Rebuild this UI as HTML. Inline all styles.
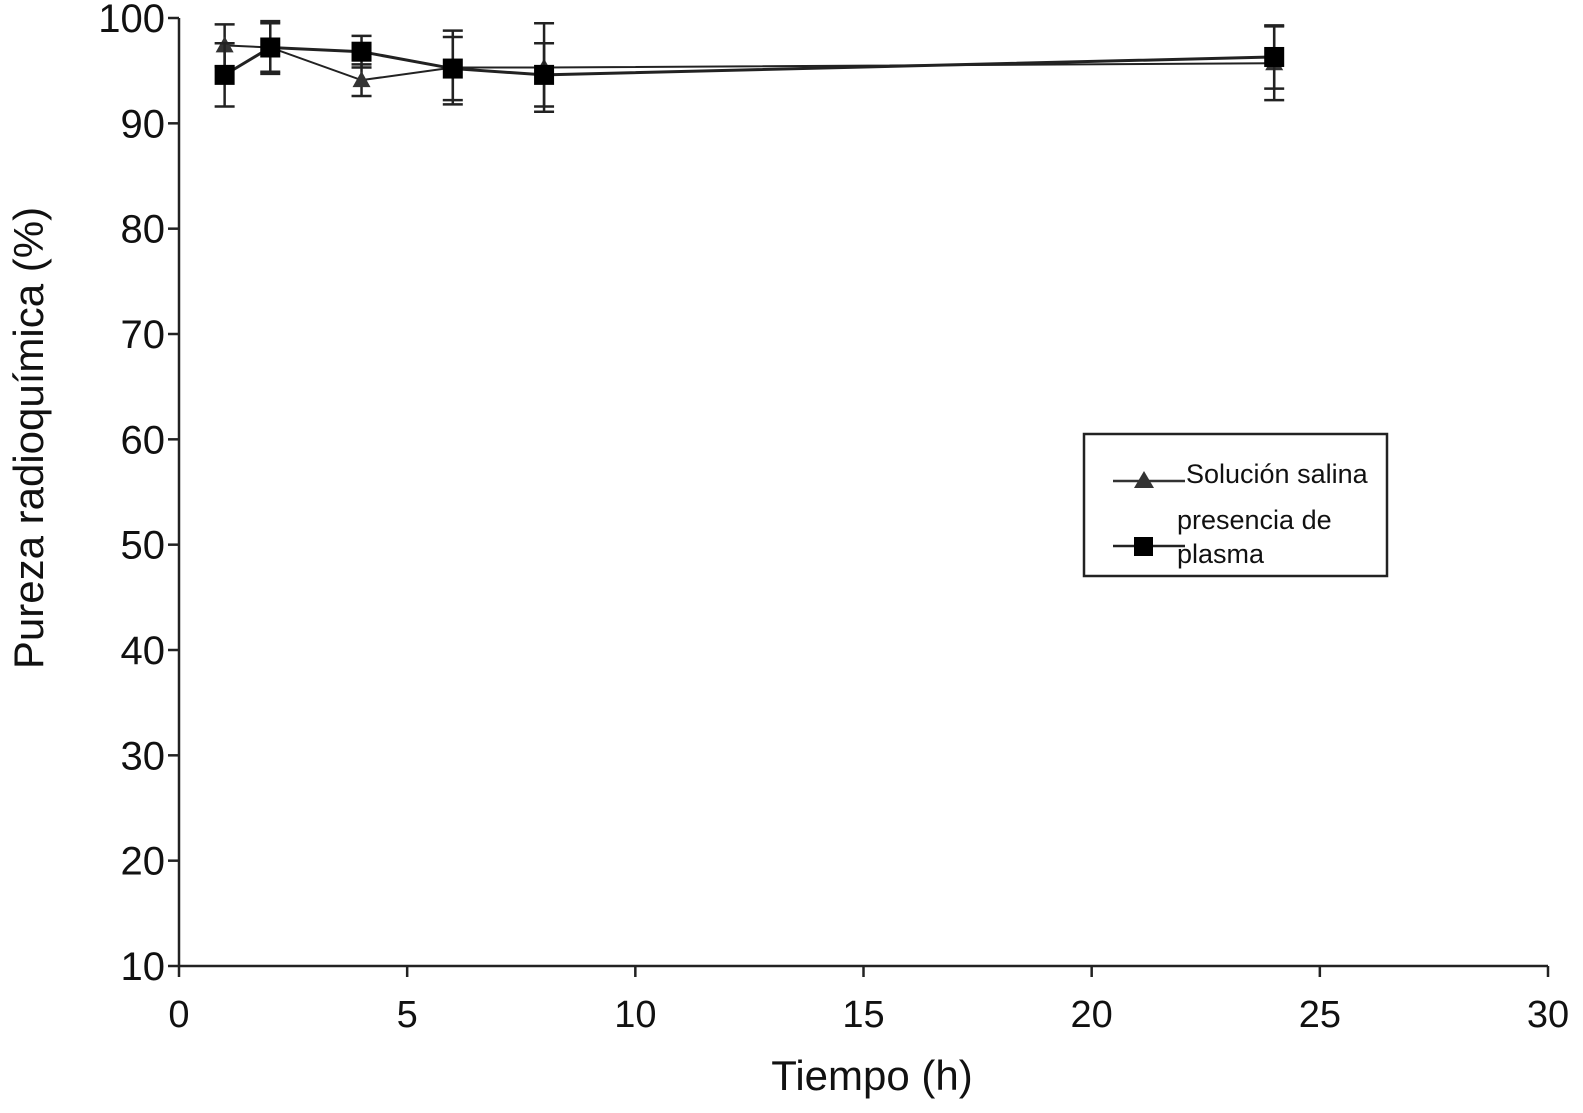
<!DOCTYPE html>
<html><head><meta charset="utf-8"><style>
body{margin:0;background:#fff;}
svg text{font-family:"Liberation Sans",sans-serif;fill:#111;}
</style></head><body>
<svg id="chart" width="1583" height="1108" xmlns="http://www.w3.org/2000/svg"></svg>
<script>
const times=[1,2,4,6,8,24];
const saline=[97.4,97.2,94.1,95.3,95.3,95.7];
const salineErr=[2,2.5,1.5,3.5,4.2,3.5];
const plasma=[94.6,97.2,96.8,95.2,94.6,96.3];
const plasmaErr=[3,2.3,1.5,3,3,3];
const xTicks=[0,5,10,15,20,25,30];
const yTicks=[10,20,30,40,50,60,70,80,90,100];
const NS='http://www.w3.org/2000/svg';
const svg=document.getElementById('chart');
const X=v=>179+v*(1548-179)/30;
const Y=v=>966-(v-10)*(966-18)/90;
function mk(t,a,p){const e=document.createElementNS(NS,t);for(const k in a)e.setAttribute(k,a[k]);(p||svg).appendChild(e);return e;}
let ax=mk('g',{});


mk('line',{x1:179,y1:18,x2:179,y2:966,stroke:'#222','stroke-width':2.5},ax);
mk('line',{x1:179,y1:966,x2:1548,y2:966,stroke:'#222','stroke-width':2.5},ax);
yTicks.forEach(v=>{mk('line',{x1:168,y1:Y(v),x2:179,y2:Y(v),stroke:'#222','stroke-width':2.5},ax);
 const t=mk('text',{x:165,y:Y(v)+14,'font-size':40,'text-anchor':'end'},ax);t.textContent=v;
 });
xTicks.forEach(v=>{mk('line',{x1:X(v),y1:966,x2:X(v),y2:977,stroke:'#222','stroke-width':2.5},ax);
 const t=mk('text',{x:X(v),y:1027,'font-size':38,'text-anchor':'middle'},ax);t.textContent=v;
 });
let xt=mk('text',{x:872,y:1090,'font-size':42,'text-anchor':'middle'});xt.textContent='Tiempo (h)';

let yt=mk('text',{x:0,y:0,'font-size':42,'text-anchor':'middle',transform:'translate(43,438) rotate(-90)'});yt.textContent='Pureza radioquímica (%)';

function series(vals,errs,name,marker){
 const g=mk('g',{});
 
 
 mk('polyline',{points:times.map((t,i)=>X(t)+','+Y(vals[i])).join(' '),fill:'none',stroke:'#222','stroke-width':marker=='sq'?3:2},g);
 times.forEach((t,i)=>{const x=X(t),lo=Y(vals[i]-errs[i]),hi=Y(vals[i]+errs[i]);
  mk('line',{x1:x,y1:lo,x2:x,y2:hi,stroke:'#222','stroke-width':2.5},g);
  mk('line',{x1:x-10,y1:lo,x2:x+10,y2:lo,stroke:'#222','stroke-width':2.5},g);
  mk('line',{x1:x-10,y1:hi,x2:x+10,y2:hi,stroke:'#222','stroke-width':2.5},g);
  const y=Y(vals[i]);
  let m;
  if(marker=='sq')m=mk('rect',{x:x-10,y:y-10,width:20,height:20,fill:'#000'},g);
  else m=mk('polygon',{points:`${x},${y-9} ${x-9},${y+7} ${x+9},${y+7}`,fill:'#333'},g);
  
 });
}
series(saline,salineErr,'saline-series','tri');
series(plasma,plasmaErr,'plasma-series','sq');
let lg=mk('g',{});


mk('rect',{x:1084,y:434,width:303,height:142,fill:'#fff',stroke:'#222','stroke-width':2.5},lg);
mk('line',{x1:1113,y1:481,x2:1185,y2:481,stroke:'#333','stroke-width':2.5},lg);
mk('polygon',{points:'1144,471 1134,488 1154,488',fill:'#333'},lg);
let t1=mk('text',{x:1186,y:483,'font-size':27},lg);t1.textContent='Solución salina';

mk('line',{x1:1113,y1:546,x2:1185,y2:546,stroke:'#222','stroke-width':2.5},lg);
mk('rect',{x:1134,y:537,width:19,height:19,fill:'#000'},lg);
let t2=mk('text',{x:1177,y:529,'font-size':27},lg);t2.textContent='presencia de';

let t3=mk('text',{x:1177,y:563,'font-size':27},lg);t3.textContent='plasma';

</script>
</body></html>
